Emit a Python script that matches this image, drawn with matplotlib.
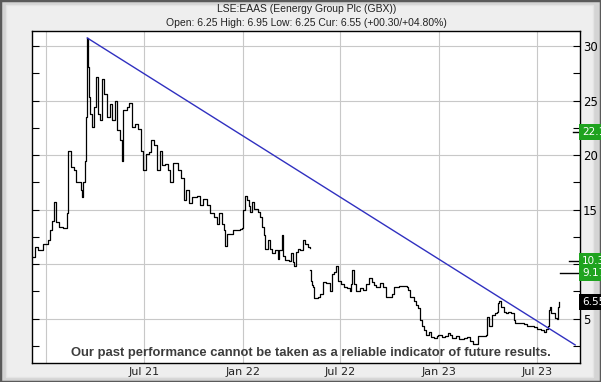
import matplotlib
matplotlib.use('Agg')
import matplotlib.pyplot as plt
from matplotlib.patches import Rectangle
from matplotlib.ticker import MultipleLocator
import pandas as pd

# price before the break in May 22
dates_a = ['2020-12-08', '2020-12-11', '2020-12-17', '2020-12-26', '2021-01-04', '2021-01-07',
           '2021-01-11', '2021-01-15', '2021-01-19', '2021-01-25', '2021-02-01', '2021-02-08',
           '2021-02-11', '2021-02-16', '2021-02-22', '2021-02-26', '2021-03-06', '2021-03-08',
           '2021-03-11', '2021-03-13', '2021-03-15', '2021-03-18', '2021-03-20', '2021-03-21',
           '2021-03-24', '2021-03-27', '2021-03-30', '2021-04-04', '2021-04-07', '2021-04-10',
           '2021-04-15', '2021-04-19', '2021-04-24', '2021-04-29', '2021-05-03', '2021-05-09',
           '2021-05-13', '2021-05-18', '2021-05-21', '2021-05-24', '2021-05-30', '2021-06-03',
           '2021-06-09', '2021-06-15', '2021-06-21', '2021-06-26', '2021-06-30', '2021-07-05',
           '2021-07-11', '2021-07-15', '2021-07-20', '2021-07-26', '2021-07-31', '2021-08-04',
           '2021-08-10', '2021-08-15', '2021-08-18', '2021-08-25', '2021-09-02', '2021-09-08',
           '2021-09-13', '2021-09-17', '2021-09-23', '2021-09-29', '2021-10-08', '2021-10-13',
           '2021-10-19', '2021-10-26', '2021-11-01', '2021-11-09', '2021-11-14', '2021-11-18',
           '2021-11-23', '2021-11-27', '2021-11-29', '2021-12-02', '2021-12-14', '2021-12-26',
           '2021-12-31', '2022-01-02', '2022-01-05', '2022-01-08', '2022-01-12', '2022-01-15',
           '2022-01-18', '2022-01-22', '2022-01-29', '2022-02-01', '2022-02-05', '2022-02-09',
           '2022-02-12', '2022-02-16', '2022-02-21', '2022-02-24', '2022-03-01', '2022-03-07',
           '2022-03-10', '2022-03-14', '2022-03-17', '2022-03-21', '2022-03-28', '2022-04-01',
           '2022-04-04', '2022-04-06', '2022-04-09', '2022-04-13', '2022-04-17', '2022-04-22',
           '2022-04-27', '2022-05-02', '2022-05-05']
price_a = [10.7, 11.6, 11.3, 11.9, 12.2, 13.1,
           14.0, 15.7, 13.9, 13.4, 13.3, 14.7,
           20.4, 18.9, 18.6, 17.5, 16.8, 16.2,
           17.5, 19.5, 23.5, 30.7, 28.1, 25.3,
           23.8, 22.6, 24.4, 27.2, 23.8, 23.2,
           27.0, 25.6, 23.5, 24.7, 23.2, 25.0,
           22.3, 21.4, 19.5, 24.1, 24.4, 24.8,
           22.6, 22.9, 22.4, 20.4, 18.6, 20.1,
           20.3, 21.4, 20.9, 18.6, 20.4, 19.1,
           19.2, 18.6, 17.5, 19.3, 18.6, 17.9,
           15.9, 16.8, 15.6, 16.2, 16.3, 15.4,
           16.0, 15.4, 14.7, 14.3, 13.7, 14.7,
           13.7, 13.1, 11.7, 12.8, 13.1, 13.2,
           13.3, 15.0, 16.3, 15.9, 15.3, 14.8,
           15.7, 15.1, 14.8, 14.3, 13.4, 12.7,
           11.4, 12.2, 11.4, 11.0, 11.3, 10.5,
           11.3, 12.7, 10.8, 10.4, 10.3, 11.0,
           10.2, 9.8, 11.1, 11.4, 11.3, 12.2,
           11.9, 11.6, 11.5]

# price after the break
dates_b = ['2022-05-06', '2022-05-08', '2022-05-09', '2022-05-12', '2022-05-14', '2022-05-20',
           '2022-05-25', '2022-05-29', '2022-06-05', '2022-06-11', '2022-06-16', '2022-06-20',
           '2022-06-23', '2022-06-26', '2022-07-02', '2022-07-08', '2022-07-13', '2022-07-18',
           '2022-07-21', '2022-07-23', '2022-07-26', '2022-07-30', '2022-08-06', '2022-08-12',
           '2022-08-18', '2022-08-23', '2022-08-28', '2022-09-01', '2022-09-06', '2022-09-12',
           '2022-09-18', '2022-09-23', '2022-10-01', '2022-10-04', '2022-10-09', '2022-10-17',
           '2022-10-26', '2022-11-01', '2022-11-04', '2022-11-07', '2022-11-14', '2022-11-19',
           '2022-11-23', '2022-11-26', '2022-11-29', '2022-12-04', '2022-12-07', '2022-12-12',
           '2022-12-16', '2022-12-21', '2022-12-27', '2022-12-30', '2023-01-06', '2023-01-12',
           '2023-01-17', '2023-01-21', '2023-01-25', '2023-01-31', '2023-02-07', '2023-02-16',
           '2023-02-21', '2023-02-26', '2023-03-04', '2023-03-12', '2023-03-14', '2023-03-29',
           '2023-03-31', '2023-04-03', '2023-04-07', '2023-04-09', '2023-04-14', '2023-04-17',
           '2023-04-20', '2023-04-22', '2023-04-26', '2023-04-30', '2023-05-04', '2023-05-09',
           '2023-05-14', '2023-05-19', '2023-05-21', '2023-05-28', '2023-06-07', '2023-06-13',
           '2023-06-19', '2023-06-26', '2023-07-02', '2023-07-08', '2023-07-15', '2023-07-17',
           '2023-07-21', '2023-07-23', '2023-07-26', '2023-07-27', '2023-07-31', '2023-08-03',
           '2023-08-07', '2023-08-09', '2023-08-11']
price_b = [9.5, 8.5, 8.1, 7.9, 6.9, 7.0,
           7.3, 8.4, 8.3, 7.5, 9.1, 9.3,
           9.8, 8.5, 8.2, 7.9, 7.8, 7.5,
           8.2, 9.5, 8.2, 7.5, 7.8, 7.6,
           8.2, 8.7, 8.4, 8.1, 7.9, 8.3,
           7.9, 7.0, 7.0, 7.3, 7.9, 8.0,
           8.0, 7.9, 7.6, 7.0, 6.6, 6.3,
           6.0, 4.9, 4.3, 4.0, 3.5, 3.8,
           3.3, 3.2, 3.4, 3.5, 3.3, 3.4,
           3.7, 3.5, 3.2, 3.4, 3.1, 3.2,
           3.3, 3.0, 2.7, 2.7, 3.4, 3.5,
           5.2, 4.3, 4.3, 5.3, 5.5, 5.6,
           6.4, 6.6, 6.1, 5.6, 5.5, 5.6,
           5.5, 4.9, 4.6, 4.6, 4.5, 4.3,
           4.3, 4.2, 4.1, 4.0, 3.8, 4.1,
           4.3, 5.8, 6.1, 5.5, 5.5, 5.1,
           5.0, 6.1, 6.55]

trend_dates = ['2021-03-18', '2023-09-10']
trend_vals = [30.75, 2.6]

levels = [22.1, 10.3, 9.17]
level_labels = ['22.1', '10.3', '9.17']
level_starts = [0.9867, 0.980, 0.9635]
current = 6.55

x_ticks = ['2021-01-01', '2021-07-01', '2022-01-01', '2022-07-01', '2023-01-01', '2023-07-01']
x_tick_labels = ['', 'Jul 21', 'Jan 22', 'Jul 22', 'Jan 23', 'Jul 23']
y_ticks = [5, 10, 15, 20, 25, 30]
y_tick_labels = ['5', '', '15', '20', '25', '30']

title = 'LSE:EAAS (Eenergy Group Plc (GBX))'
subtitle = 'Open: 6.25 High: 6.95 Low: 6.25 Cur: 6.55 (+00.30/+04.80%)'
disclaimer = 'Our past performance cannot be taken as a reliable indicator of future results.'

W, H = 601, 382
fig = plt.figure(figsize=(W / 100, H / 100), dpi=100)
fig.patch.set_facecolor('#d4d4d4')
fig.patches.append(Rectangle((6 / W, 5 / H), (593 - 6) / W, (377 - 5) / H, transform=fig.transFigure,
                             facecolor='#eeeeee', edgecolor='#e4e4e4', lw=1, zorder=-2))
fig.patches.append(Rectangle((0, 0), 1, 1, transform=fig.transFigure, fill=False,
                             edgecolor='#5a5a5a', lw=2.5, zorder=-1))

ax = fig.add_axes([32.3 / W, 1 - 362.7 / H, (580 - 32.3) / W, (362.7 - 31.4) / H])
ax.set_facecolor('white')

ax.plot(pd.to_datetime(dates_a), price_a, drawstyle='steps-post', color='black', lw=0.9)
ax.plot(pd.to_datetime(dates_b), price_b, drawstyle='steps-post', color='black', lw=0.9)
ax.plot(pd.to_datetime(trend_dates), trend_vals, color='#3030c0', lw=1.0)

ax.set_xlim(pd.Timestamp('2020-12-06'), pd.Timestamp('2023-09-19'))
ax.set_ylim(0.97, 31.35)

ax.set_xticks(pd.to_datetime(x_ticks))
ax.set_xticklabels(x_tick_labels)
ax.set_yticks(y_ticks)
ax.set_yticklabels(y_tick_labels)
ax.yaxis.set_minor_locator(MultipleLocator(2.5))
ax.tick_params(axis='x', length=0, labelsize=8, pad=3, colors='#222222')
ax.tick_params(axis='y', which='both', direction='in', left=True, right=True,
               labelleft=False, labelright=True, length=5, width=0.8, labelsize=8.5, pad=2)
ax.grid(True, which='major', color='#c8c8c8', lw=0.8)
ax.set_axisbelow(True)
for s in ax.spines.values():
    s.set_color('black')
    s.set_linewidth(1)

# level markers at the right edge, boxes run into the frame like the original
for lv, lab, x0 in zip(levels, level_labels, level_starts):
    ax.axhline(lv, xmin=x0, xmax=1, color='black', lw=1, clip_on=False)
    ax.text(1.0035, lv, lab, transform=ax.get_yaxis_transform(), ha='left', va='center',
            fontsize=7.5, color='white', clip_on=False, zorder=5,
            bbox=dict(boxstyle='square,pad=0.3', facecolor='#1fa31f', edgecolor='none'))
ax.text(1.0035, current, f'{current:.2f}', transform=ax.get_yaxis_transform(), ha='left',
        va='center', fontsize=7.5, color='white', clip_on=False, zorder=5,
        bbox=dict(boxstyle='square,pad=0.3', facecolor='black', edgecolor='none'))

fig.text(0.51, 1 - 8.5 / H, title, ha='center', va='center', fontsize=7.5,
         family='Liberation Sans', color='#222222')
fig.text(0.51, 1 - 23 / H, subtitle, ha='center', va='center', fontsize=7.5,
         family='Liberation Sans', color='#222222')
fig.text(311 / W, 1 - 353 / H, disclaimer, ha='center', va='center', fontsize=9.4,
         fontweight='bold', family='Liberation Sans', color='#3c3c3c')

fig.savefig('out.png', dpi=100, facecolor=fig.get_facecolor())
